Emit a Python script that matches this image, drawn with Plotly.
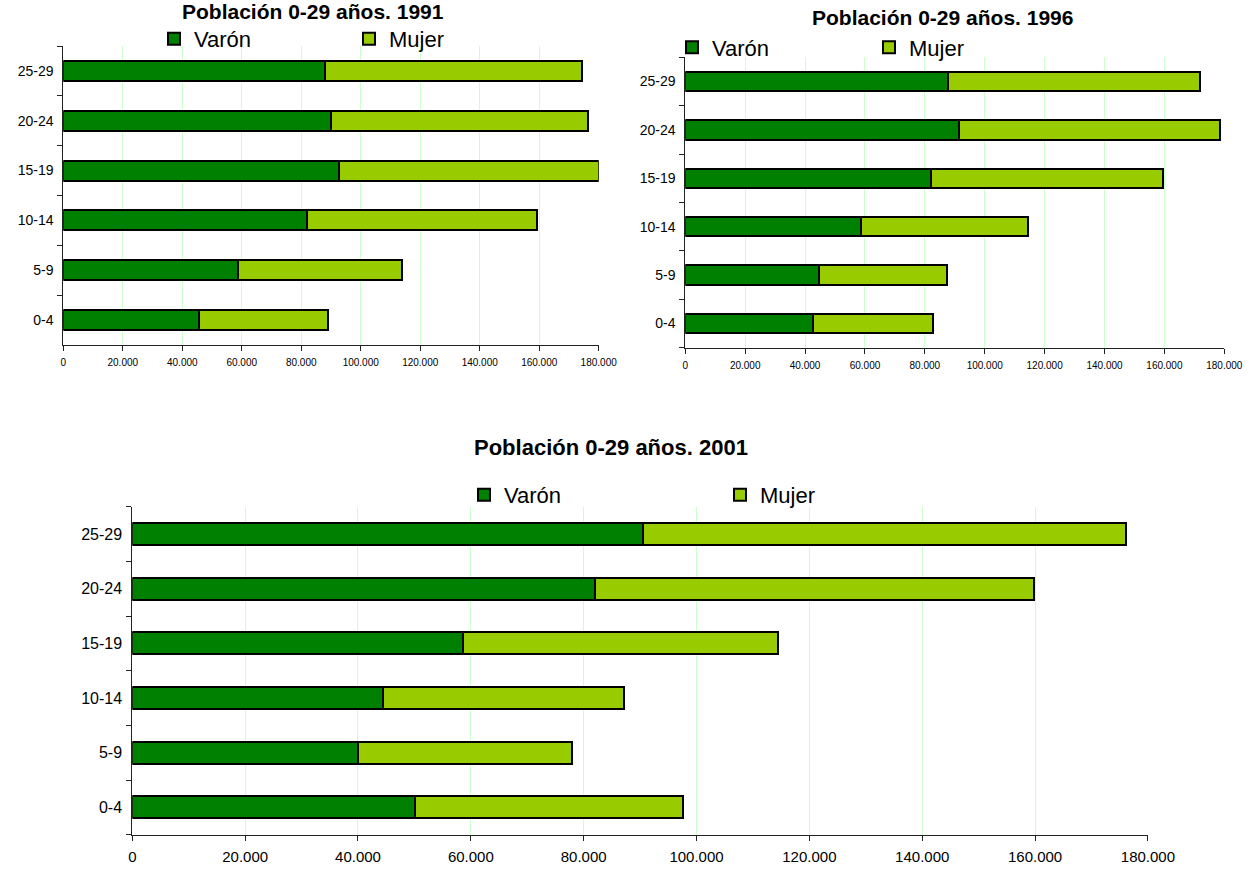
import plotly.graph_objects as go

W, H = 1253, 869

# ---------------- data ----------------
age_groups = ["0-4", "5-9", "10-14", "15-19", "20-24", "25-29"]
series_names = ["Varón", "Mujer"]

varon_1991 = [45600, 58700, 81900, 92700, 90000, 88000]
mujer_1991 = [43400, 55200, 77500, 87400, 86300, 86500]

varon_1996 = [42800, 44700, 58600, 82000, 91400, 87600]
mujer_1996 = [40000, 42600, 56000, 77600, 87200, 84400]

varon_2001 = [50100, 40000, 44400, 58600, 82000, 90500]
mujer_2001 = [47500, 37900, 42800, 55900, 77800, 85600]

titles = ["Población 0-29 años. 1991", "Población 0-29 años. 1996", "Población 0-29 años. 2001"]
x_tick_values = [0, 20000, 40000, 60000, 80000, 100000, 120000, 140000, 160000, 180000]

# ---------------- styles ----------------
COL_VARON = "#008000"
COL_MUJER = "#99CC00"
GRID = "#CCFFCC"
AXIS = "#222222"
FONT = "Liberation Sans, Arial, sans-serif"


def px_x(p):
    return p / W


def px_y(p):
    return 1 - p / H


panels = [
    dict(data=(varon_1991, mujer_1991), x=(63.3, 598.7), y=(46, 345), legend="legend",
         xt=10, yt=14, title_xy=(313, 25), title_size=21),
    dict(data=(varon_1996, mujer_1996), x=(685.3, 1224.3), y=(57.3, 347.7), legend="legend2",
         xt=10, yt=14, title_xy=(942, 31), title_size=21),
    dict(data=(varon_2001, mujer_2001), x=(132.3, 1147.9), y=(506.7, 834.7), legend="legend3",
         xt=15, yt=16, title_xy=(611, 462), title_size=22),
]

legend_pos = [
    dict(x=154, y=39, ew=150),
    dict(x=672, y=47.5, ew=152),
    dict(x=464, y=495, ew=211),
]

fig = go.Figure()
layout = dict(
    template="none",
    width=W, height=H, autosize=False,
    margin=dict(l=0, r=0, t=0, b=0, pad=0, autoexpand=False),
    paper_bgcolor="white", plot_bgcolor="white",
    barmode="stack", bargap=0.6,
    separators=",.",
    font=dict(family=FONT, color="black"),
    annotations=[],
)

for i, p in enumerate(panels):
    sfx = "" if i == 0 else str(i + 1)
    xa, ya = "x" + sfx, "y" + sfx
    v, m = p["data"]
    for name, vals, col in ((series_names[0], v, COL_VARON), (series_names[1], m, COL_MUJER)):
        fig.add_trace(go.Bar(
            x=vals, y=age_groups, orientation="h", name=name,
            xaxis=xa, yaxis=ya, legend=p["legend"],
            marker=dict(color=col, line=dict(color="black", width=2)),
            width=0.4,
        ))
    layout["xaxis" + sfx] = dict(
        domain=[px_x(p["x"][0]), px_x(p["x"][1])], anchor=ya,
        range=[0, 180000], tickvals=x_tick_values, tickformat=",d",
        showgrid=True, gridcolor=GRID, gridwidth=1,
        showline=True, linecolor=AXIS, linewidth=1,
        ticks="outside", ticklen=5, tickcolor=AXIS,
        tickfont=dict(size=p["xt"], family=FONT, color="black"),
        ticklabelstandoff=3, zeroline=False, fixedrange=True, automargin=False,
    )
    layout["yaxis" + sfx] = dict(
        domain=[px_y(p["y"][1]), px_y(p["y"][0])], anchor=xa,
        type="category", categoryorder="array", categoryarray=age_groups,
        range=[-0.5, 5.5],
        showgrid=False, showline=True, linecolor=AXIS, linewidth=1,
        ticks="outside", ticklen=5, tickcolor=AXIS, tickson="boundaries",
        tickfont=dict(size=p["yt"], family=FONT, color="black"),
        ticklabelstandoff=6, fixedrange=True, automargin=False,
    )
    lp = legend_pos[i]
    layout[p["legend"]] = dict(
        orientation="h", x=px_x(lp["x"]), xanchor="left",
        y=px_y(lp["y"]), yanchor="middle",
        entrywidth=lp["ew"], entrywidthmode="pixels",
        traceorder="normal", bgcolor="rgba(0,0,0,0)", borderwidth=0,
        font=dict(size=22, family=FONT, color="black"),
    )
    layout["annotations"].append(dict(
        text="<b>" + titles[i] + "</b>", showarrow=False,
        xref="paper", yref="paper",
        x=px_x(p["title_xy"][0]), y=px_y(p["title_xy"][1]),
        xanchor="center", yanchor="bottom",
        font=dict(size=p["title_size"], family=FONT, color="black"),
    ))

fig.update_layout(**layout)

post = (
    "document.body.style.margin='0';"
    "document.body.style.padding='0';"
    "document.body.style.overflow='hidden';"
    "var gd=document.getElementById('{plot_id}');"
    "Plotly.relayout(gd,{width:%d,height:%d});" % (W, H)
)
fig.write_html("out.html", config={"responsive": False, "displayModeBar": False},
               post_script=post)
